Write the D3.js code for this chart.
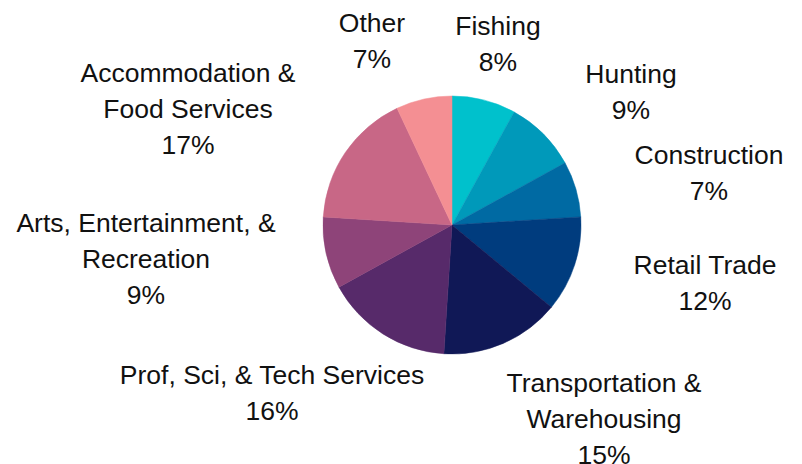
<!DOCTYPE html>
<html>
<head>
<meta charset="utf-8">
<script src="https://cdn.jsdelivr.net/npm/d3@7"></script>
<style>
  body { margin: 0; background: #fff; }
  text { font-family: "Liberation Sans", Arial, sans-serif; }
</style>
</head>
<body>
<div id="pie"></div>
<script>
// Industry shares (percent), clockwise from 12 o'clock
const industries = ["Fishing", "Hunting", "Construction", "Retail Trade",
    "Transportation & Warehousing", "Prof, Sci, & Tech Services",
    "Arts, Entertainment, & Recreation", "Accommodation & Food Services", "Other"];
const shares = [8, 9, 7, 12, 15, 16, 9, 17, 7];
const labelLines = [
    ["Fishing"], ["Hunting"], ["Construction"], ["Retail Trade"],
    ["Transportation &", "Warehousing"], ["Prof, Sci, & Tech Services"],
    ["Arts, Entertainment, &", "Recreation"], ["Accommodation &", "Food Services"], ["Other"]
];
const colors = ["#00c1cc", "#0099ba", "#006aa3", "#003c7e", "#101856",
    "#572a6a", "#8e4479", "#c86786", "#f48f93"];

// where each label block sits (centre x, first baseline y)
const labelPos = [[498, 35], [631, 83], [709, 164], [705, 274], [604, 392],
    [272, 384], [146, 232], [188, 82], [372, 32]];

const width = 802, height = 464;
const cx = 452, cy = 225, radius = 129;
const lineH = 36;

const data = industries.map((name, i) => ({ name, value: shares[i], i }));

const svg = d3.select("#pie")
    .append("svg")
    .attr("width", width)
    .attr("height", height);

const g = svg.append("g")
    .attr("transform", `translate(${cx},${cy})`);

const pie = d3.pie()
    .sort(null)
    .value(d => d.value);

const arc = d3.arc()
    .innerRadius(0)
    .outerRadius(radius);

const color = d3.scaleOrdinal()
    .domain(industries)
    .range(colors);

g.selectAll("path")
    .data(pie(data))
    .enter()
    .append("path")
    .attr("d", arc)
    .attr("fill", d => color(d.data.name))
    .attr("stroke", d => color(d.data.name))
    .attr("stroke-width", 0.5);

// labels: name lines then percent
const labels = svg.selectAll(".lbl")
    .data(data)
    .enter()
    .append("text")
    .attr("class", "lbl")
    .attr("text-anchor", "middle")
    .attr("fill", "#111")
    .style("font-size", "26.5px");

labels.each(function(d) {
    const [x, y] = labelPos[d.i];
    const lines = labelLines[d.i].concat([d.value + "%"]);
    const t = d3.select(this);
    lines.forEach((line, k) => {
        t.append("tspan")
            .attr("x", x)
            .attr("y", y + k * lineH)
            .text(line);
    });
});
</script>
</body>
</html>
